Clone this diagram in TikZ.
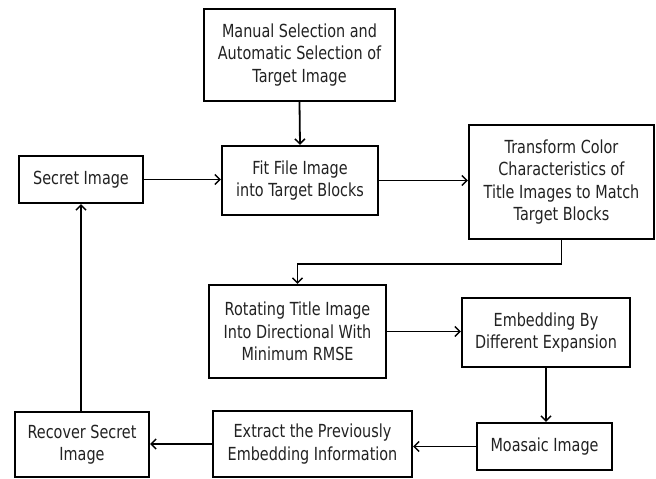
\documentclass[tikz,border=0pt]{standalone}
\usepackage{fontspec}
\setmainfont{DejaVu Sans}[FakeStretch=0.8]
\usetikzlibrary{arrows.meta}
\definecolor{ink}{HTML}{222222}
\tikzset{
  blk/.style={draw=black, line width=2.2pt, fill=white, inner sep=0pt,
    align=center, text=ink, font=\fontsize{18}{22.5}\selectfont},
  link/.style={draw=black, line width=1.8pt,
    -{Straight Barb[length=5pt,width=10pt,line width=1.5pt]}},
  plain/.style={draw=black, line width=1.8pt}
}
\begin{document}
\begin{tikzpicture}[x=1pt,y=-1pt]
  \useasboundingbox (0,0) rectangle (656,479);

  % process blocks
  \node[blk, minimum width=191pt, minimum height=92pt] (top) at (299.5,55)
    {Manual Selection and\\Automatic Selection of\\Target Image};
  \node[blk, minimum width=156pt, minimum height=69pt] (fit) at (300,180.5)
    {Fit File Image\\into Target Blocks};
  \node[blk, minimum width=124pt, minimum height=47pt] (secret) at (81,179.5)
    {Secret Image};
  \node[blk, minimum width=185pt, minimum height=114pt] (trans) at (561.5,182)
    {Transform Color\\Characteristics of\\Title Images to Match\\Target Blocks};
  \node[blk, minimum width=177pt, minimum height=93pt] (rot) at (297.5,331.5)
    {Rotating Title Image\\Into Directional With\\Minimum RMSE};
  \node[blk, minimum width=168pt, minimum height=69pt] (emb) at (546,332.5)
    {Embedding By\\Different Expansion};
  \node[blk, minimum width=135pt, minimum height=47pt] (mos) at (544.5,446.5)
    {Moasaic Image};
  \node[blk, minimum width=199pt, minimum height=66pt] (ext) at (312.5,444)
    {Extract the Previously\\Embedding Information};
  \node[blk, minimum width=134pt, minimum height=65pt] (rec) at (82,444.5)
    {Recover Secret\\Image};

  % connectors
  \draw[link] (top.south) -- (fit.north);
  \draw[link] (secret.east) -- (secret.east -| fit.west);
  \draw[link] (fit.east) -- (fit.east -| trans.west);
  \draw[link] (trans.south) -- ++(0,24) -| (rot.north);
  \draw[link] (rot.east) -- (rot.east -| emb.west);
  \draw[link] (emb.south) -- (emb.south |- mos.north);
  \draw[link] (mos.west) -- (mos.west -| ext.east);
  \draw[link] (ext.west) -- (ext.west -| rec.east);
  \draw[link] (rec.north) -- (rec.north -| secret.south) -- (secret.south);
\end{tikzpicture}
\end{document}
